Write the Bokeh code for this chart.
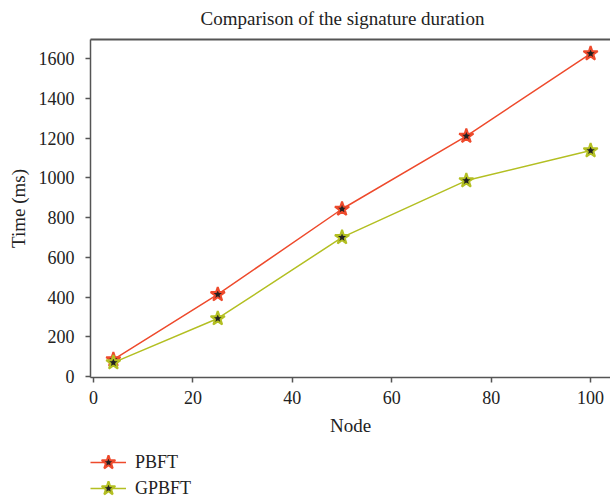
from bokeh.plotting import figure
from bokeh.layouts import column
from bokeh.models import Range1d, LinearAxis, Legend, LegendItem, FixedTicker
from bokeh.embed import file_html
from bokeh.resources import INLINE

nodes = [4, 25, 50, 75, 100]
pbft = [85, 413, 843, 1210, 1625]
gpbft = [70, 292, 700, 986, 1137]
x_ticks = [0, 20, 40, 60, 80, 100]
y_ticks = [0, 200, 400, 600, 800, 1000, 1200, 1400, 1600]
series_names = ["PBFT", "GPBFT"]

FONT = "Liberation Serif"
AX = "#555555"
TXT = "#222222"
red = "#ee4a2c"
ygr = "#b3bf22"

p = figure(width=610, height=445, output_backend="svg", toolbar_location=None,
           x_range=Range1d(-0.6, 104.0), y_range=Range1d(-5, 1696),
           min_border_left=90, min_border_top=39, min_border_bottom=68, min_border_right=0)
p.title.text = "Comparison of the signature duration"
p.title.text_font = FONT
p.title.text_font_size = "19px"
p.title.text_font_style = "normal"
p.title.text_color = TXT
p.title.align = "left"
p.title.offset = 110
p.outline_line_color = None
p.grid.visible = False

for ax in (p.xaxis[0], p.yaxis[0]):
    ax.axis_line_color = AX
    ax.axis_line_width = 1.5
    ax.major_tick_line_color = AX
    ax.major_tick_line_width = 1.5
    ax.major_tick_out = 5
    ax.major_tick_in = 0
    ax.minor_tick_line_color = None
    ax.major_label_text_font = FONT
    ax.major_label_text_font_size = "18px"
    ax.major_label_text_color = TXT
    ax.axis_label_text_font = FONT
    ax.axis_label_text_font_size = "19px"
    ax.axis_label_text_font_style = "normal"
    ax.axis_label_text_color = TXT

p.xaxis.ticker = FixedTicker(ticks=x_ticks)
p.yaxis.ticker = FixedTicker(ticks=y_ticks)
p.xaxis.axis_label = "Node"
p.yaxis.axis_label = "Time (ms)"
p.xaxis.major_label_standoff = 8
p.yaxis.major_label_standoff = 11
p.xaxis.axis_label_standoff = 8
p.yaxis.axis_label_standoff = 7

top = LinearAxis(axis_line_color=AX, axis_line_width=2, major_tick_line_color=None,
                 minor_tick_line_color=None, major_label_text_font_size="0px",
                 major_label_standoff=0)
p.add_layout(top, "above")

p.line(nodes, pbft, line_color=red, line_width=1.5)
p.scatter(nodes, pbft, marker="star", size=15, fill_color="#222222",
          line_color=red, line_width=2)
p.line(nodes, gpbft, line_color=ygr, line_width=1.5)
p.scatter(nodes, gpbft, marker="star", size=15, fill_color="#222222",
          line_color=ygr, line_width=2)

# legend strip below the chart; its ranges keep the series out of view,
# the renderers only supply the legend glyph styles
p2 = figure(width=610, height=55, output_backend="svg", toolbar_location=None,
            x_axis_type=None, y_axis_type=None, min_border=0,
            x_range=Range1d(-20, -10), y_range=Range1d(-20, -10))
p2.outline_line_color = None
p2.grid.visible = False
for name, col, vals, ypos in zip(series_names, [red, ygr], [pbft, gpbft], [19, -7]):
    lr = p2.line(nodes, vals, line_color=col, line_width=1.5)
    sr = p2.scatter(nodes, vals, marker="star", size=15, fill_color="#222222",
                    line_color=col, line_width=2)
    lg = Legend(items=[LegendItem(label=name, renderers=[lr, sr])],
                orientation="vertical", location=(0, ypos),
                label_text_font=FONT, label_text_font_size="18px", label_text_color=TXT,
                border_line_color=None, background_fill_alpha=0,
                glyph_width=36, glyph_height=38, label_height=20, label_standoff=9,
                spacing=0, padding=0, margin=0)
    p2.add_layout(lg, "center")

layout = column(p, p2, spacing=0)
open("out.html", "w").write(file_html(layout, INLINE))
